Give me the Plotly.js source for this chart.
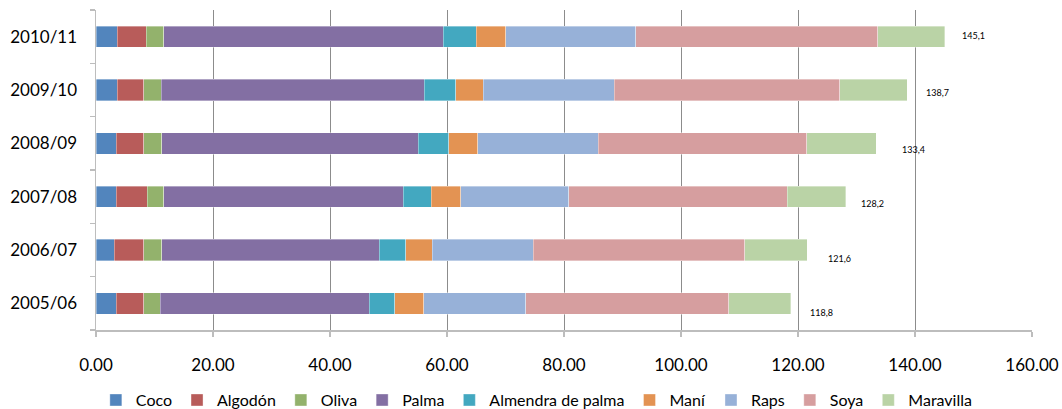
<!DOCTYPE html>
<html>
<head>
<meta charset="utf-8">
<script src="https://cdn.plot.ly/plotly-3.0.1.min.js"></script>
<style>html,body{margin:0;padding:0;background:#fff;}#chart{width:1062px;height:409px;}</style>
</head>
<body>
<div id="chart"></div>
<script>
var categories = ['2005/06', '2006/07', '2007/08', '2008/09', '2009/10', '2010/11'];
var seriesNames = ['Coco', 'Algodón', 'Oliva', 'Palma', 'Almendra de palma', 'Maní', 'Raps', 'Soya', 'Maravilla'];
var coco      = [3.48, 3.12, 3.48, 3.48, 3.65, 3.65];
var algodon   = [4.71, 5.07, 5.24, 4.71, 4.54, 4.90];
var oliva     = [2.83, 3.01, 2.83, 3.01, 2.95, 3.00];
var palma     = [35.71, 37.18, 40.95, 43.90, 44.96, 47.85];
var almendra  = [4.36, 4.54, 4.84, 5.18, 5.36, 5.60];
var mani      = [4.95, 4.53, 5.01, 5.01, 4.72, 5.00];
var raps      = [17.46, 17.29, 18.42, 20.56, 22.38, 22.30];
var soya      = [34.67, 36.16, 37.43, 35.62, 38.54, 41.30];
var maravilla = [10.63, 10.70, 10.00, 11.93, 11.60, 11.50];
var totals    = [118.8, 121.6, 128.2, 133.4, 138.7, 145.1];
var xTicks    = [0, 20, 40, 60, 80, 100, 120, 140, 160];

// label placement (pixels, style only)
var labelDx = [17.5, 19, 13.5, 24, 16.5, 15.5];
var labelDy = [-9, -8, -7, -6, -2, 1];

var seriesValues = [coco, algodon, oliva, palma, almendra, mani, raps, soya, maravilla];
var colors = ['#5285BD', '#B85C5A', '#93B26C', '#836FA3', '#43A8C0', '#E39353', '#97B1D8', '#D69E9F', '#BAD3A6'];
var FONT = 'Lato, sans-serif';

var traces = seriesNames.map(function (name, i) {
  return {
    type: 'bar',
    orientation: 'h',
    name: name,
    y: categories,
    x: seriesValues[i],
    marker: {color: colors[i], line: {color: 'rgba(255,255,255,0.6)', width: 0.6}},
    hoverinfo: 'name+x'
  };
});

var annotations = categories.map(function (c, i) {
  return {
    x: totals[i], y: c, xref: 'x', yref: 'y',
    text: totals[i].toFixed(1).replace('.', ','),
    showarrow: false, xanchor: 'left', yanchor: 'middle',
    xshift: labelDx[i], yshift: labelDy[i],
    font: {family: FONT, size: 9, color: '#000'}
  };
});

var layout = {
  width: 1062, height: 409,
  margin: {l: 96, r: 30, t: 10, b: 79, autoexpand: false},
  paper_bgcolor: '#fff', plot_bgcolor: '#fff',
  barmode: 'stack',
  bargap: 0.6,
  font: {family: FONT, size: 17, color: '#000'},
  xaxis: {
    range: [0, 160],
    tickvals: xTicks,
    tickformat: '.2f',
    showgrid: true, gridcolor: '#8C8C8C', gridwidth: 1,
    zeroline: false,
    showline: true, linecolor: '#BDBDBD', linewidth: 1.5,
    ticks: 'outside', ticklen: 5, tickcolor: '#BDBDBD', tickwidth: 1.5,
    tickfont: {family: FONT, size: 17, color: '#000'},
    ticklabelstandoff: 14,
    automargin: false,
    fixedrange: true
  },
  yaxis: {
    type: 'category',
    categoryorder: 'array', categoryarray: categories,
    showline: true, linecolor: '#BDBDBD', linewidth: 1.5,
    ticks: 'outside', ticklen: 5, tickcolor: '#BDBDBD', tickwidth: 1.5,
    tickson: 'boundaries',
    showgrid: false,
    tickfont: {family: FONT, size: 17, color: '#000'},
    ticklabelstandoff: 14,
    automargin: false,
    fixedrange: true
  },
  showlegend: true,
  legend: {
    orientation: 'h', x: 0.471, xanchor: 'center', y: -0.219, yanchor: 'middle',
    font: {family: FONT, size: 16, color: '#000'},
    itemwidth: 30, traceorder: 'normal',
    tracegroupgap: 0
  },
  annotations: annotations
};

Plotly.newPlot('chart', traces, layout, {displayModeBar: false, staticPlot: true});
</script>
</body>
</html>
